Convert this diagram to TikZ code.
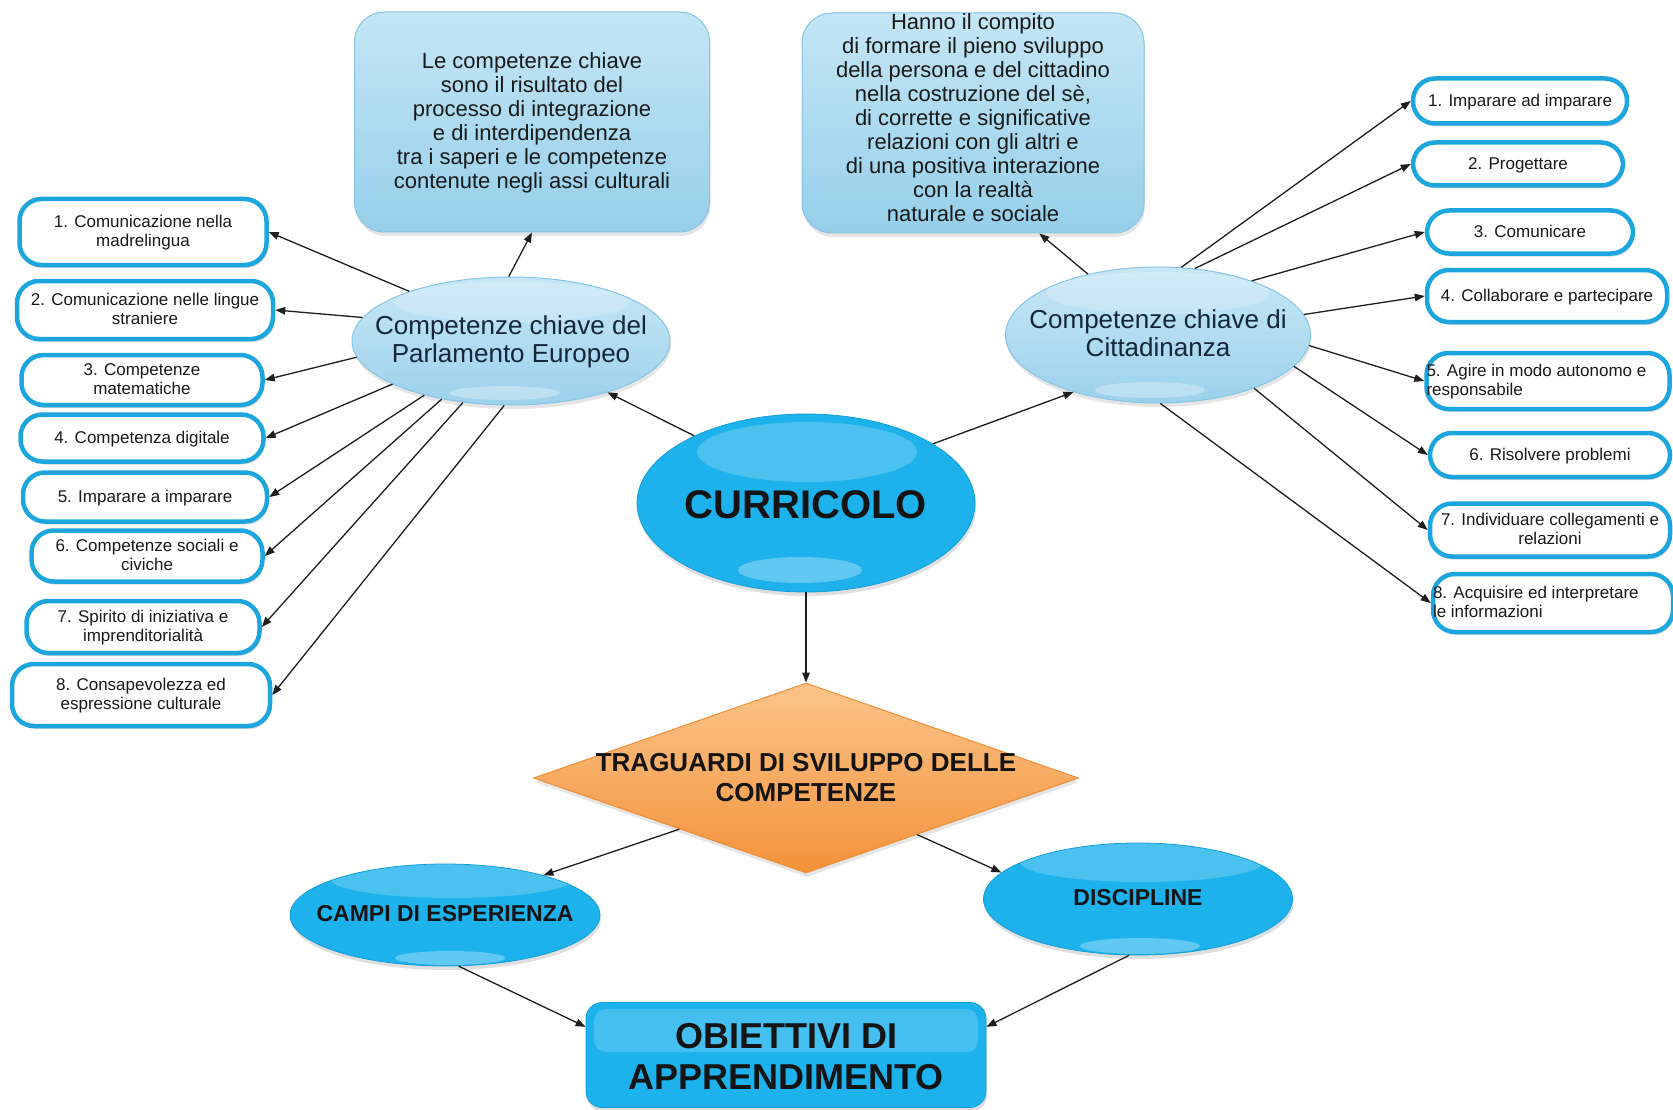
\documentclass[tikz,border=0pt]{standalone}
\usepackage{fontspec}
\setmainfont{Liberation Sans}
\usetikzlibrary{shapes.geometric,shadows,arrows.meta}

\definecolor{pillB}{HTML}{1CA6DD}
\definecolor{cyanC}{HTML}{1DB2EC}
\definecolor{cyanD}{HTML}{139FD6}
\definecolor{lbTop}{HTML}{C4E6F5}
\definecolor{lbBot}{HTML}{96CFEA}
\definecolor{keTop}{HTML}{C8E7F6}
\definecolor{keBot}{HTML}{9BD1EC}
\definecolor{lbBorder}{HTML}{86C6E4}
\definecolor{orT}{HTML}{FBC48A}
\definecolor{orB}{HTML}{F3923A}
\definecolor{orBorder}{HTML}{EE8E36}
\definecolor{arr}{HTML}{1E1E1E}
\definecolor{navy}{HTML}{15263A}

\newcommand\zb[2][0pt]{\smash{\makebox[0pt]{\raisebox{\dimexpr-.33em+#1\relax}{\begin{tabular}{@{}c@{}}#2\end{tabular}}}}}
\newcommand\zl[2]{\smash{\makebox[0pt]{\makebox[#1][l]{\raisebox{-.33em}{\begin{tabular}{@{}l@{}}#2\end{tabular}}}}}}

\tikzset{
  pill/.style={rectangle, rounded corners=22pt, draw=pillB, line width=4.5pt, fill=white,
    inner sep=0pt, font=\fontsize{17}{19.5}\selectfont, text=black!90,
    drop shadow={shadow xshift=1.5pt, shadow yshift=-3pt, opacity=.3}},
  keybox/.style={ellipse, draw=lbBorder, line width=1pt, top color=keTop, bottom color=keBot,
    inner sep=0pt, font=\fontsize{26}{28}\selectfont, text=navy,
    drop shadow={shadow xshift=1pt, shadow yshift=-4pt, opacity=.2}},
  infobox/.style={rectangle, rounded corners=30pt, draw=lbBorder, line width=1pt,
    top color=lbTop, bottom color=lbBot, inner sep=0pt, font=\fontsize{22}{24}\selectfont,
    text=black!90,
    drop shadow={shadow xshift=1pt, shadow yshift=-4pt, opacity=.2}},
  cyanell/.style={ellipse, draw=cyanD, line width=.8pt, fill=cyanC, inner sep=0pt, text=black!92,
    drop shadow={shadow xshift=1pt, shadow yshift=-4pt, opacity=.25}},
  conn/.style={-{Triangle[length=10pt,width=7.5pt]}, line width=1.3pt, draw=arr},
  % two glossy highlights inside an ellipse: top (dx,dy,rx,ry) and bottom (dx,dy,rx,ry)
  twogloss/.style n args={8}{path picture={
    \fill[white, opacity=.2] ([xshift=#1pt, yshift=#2pt]path picture bounding box.center)
      ellipse [x radius=#3pt, y radius=#4pt];
    \fill[white, opacity=.3] ([xshift=#5pt, yshift=#6pt]path picture bounding box.center)
      ellipse [x radius=#7pt, y radius=#8pt];}}
}

\begin{document}
\begin{tikzpicture}[x=1pt, y=-1pt]
\useasboundingbox (0,0) rectangle (1673,1110);
\fill[white] (0,0) rectangle (1673,1110);

% info boxes
\node[infobox, minimum width=355pt, minimum height=220pt] (tl) at (532,122)
  {\zb{Le competenze chiave\\sono il risultato del\\processo di integrazione\\e di interdipendenza\\tra i saperi e le competenze\\contenute negli assi culturali}};
\node[infobox, minimum width=342pt, minimum height=220pt] (tr) at (973,123)
  {\zb[4pt]{Hanno il compito\\di formare il pieno sviluppo\\della persona e del cittadino\\nella costruzione del sè,\\di corrette e significative\\relazioni con gli altri e\\di una positiva interazione\\con la realtà\\naturale e sociale}};

% key ellipses
\node[keybox, minimum width=318pt, minimum height=128pt,
  twogloss={0}{39}{118}{20}{-6}{-52}{55}{7}] (par) at (511,341)
  {\zb{Competenze chiave del\\Parlamento Europeo}};
\node[keybox, minimum width=305pt, minimum height=136pt,
  twogloss={0}{42}{112}{21}{-8}{-55}{55}{8}] (cit) at (1158,335)
  {\zb{Competenze chiave di\\Cittadinanza}};

% left boxes
\node[pill, minimum width=247pt, minimum height=66pt] (l1) at (143,232) {\zb{1. Comunicazione nella\\madrelingua}};
\node[pill, minimum width=256pt, minimum height=58pt] (l2) at (145,310) {\zb{2. Comunicazione nelle lingue\\straniere}};
\node[pill, minimum width=241pt, minimum height=50pt] (l3) at (142,380) {\zb{3. Competenze\\matematiche}};
\node[pill, minimum width=243pt, minimum height=47pt] (l4) at (142,438) {\zb{4. Competenza digitale}};
\node[pill, minimum width=244pt, minimum height=49pt] (l5) at (145,497) {\zb{5. Imparare a imparare}};
\node[pill, minimum width=231pt, minimum height=51pt] (l6) at (147,556) {\zb{6. Competenze sociali e\\civiche}};
\node[pill, minimum width=233pt, minimum height=52pt] (l7) at (143,627) {\zb{7. Spirito di iniziativa e\\imprenditorialità}};
\node[pill, minimum width=258pt, minimum height=62pt] (l8) at (141,695) {\zb{8. Consapevolezza ed\\espressione culturale}};

% right boxes
\node[pill, minimum width=214pt, minimum height=45pt] (r1) at (1520,101) {\zb{1. Imparare ad imparare}};
\node[pill, minimum width=210pt, minimum height=43pt] (r2) at (1518,164) {\zb{2. Progettare}};
\node[pill, minimum width=206pt, minimum height=43pt] (r3) at (1530,232) {\zb{3. Comunicare}};
\node[pill, minimum width=240pt, minimum height=52pt] (r4) at (1547,296) {\zb{4. Collaborare e partecipare}};
\node[pill, minimum width=243pt, minimum height=56pt] (r5) at (1548,381) {\zl{243pt}{5. Agire in modo autonomo e\\responsabile}};
\node[pill, minimum width=240pt, minimum height=44pt] (r6) at (1550,455) {\zb{6. Risolvere problemi}};
\node[pill, minimum width=240pt, minimum height=53pt] (r7) at (1550,530) {\zb{7. Individuare collegamenti e\\relazioni}};
\node[pill, minimum width=240pt, minimum height=58pt] (r8) at (1553,603) {\zl{240pt}{8. Acquisire ed interpretare\\le informazioni}};

% CURRICOLO
\node[cyanell, minimum width=338pt, minimum height=178pt,
  twogloss={1}{51}{110}{30}{-6}{-67}{62}{13},
  font=\bfseries\fontsize{40}{44}\selectfont] (cur) at (806,503) {\zb{CURRICOLO}};

% diamond
\node[diamond, minimum width=545pt, minimum height=190pt, draw=orBorder, line width=1pt,
  top color=orT, bottom color=orB, inner sep=0pt, text=black!92,
  drop shadow={shadow xshift=1pt, shadow yshift=-4pt, opacity=.2},
  font=\bfseries\fontsize{26}{30}\selectfont] (tra) at (806,778)
  {\zb{TRAGUARDI DI SVILUPPO DELLE\\COMPETENZE}};

% campi / discipline
\node[cyanell, minimum width=310pt, minimum height=102pt,
  twogloss={7}{36}{122}{19}{5}{-43}{55}{7},
  font=\bfseries\fontsize{23}{26}\selectfont] (cam) at (445,915) {\zb{CAMPI DI ESPERIENZA}};
\node[cyanell, minimum width=309pt, minimum height=112pt,
  twogloss={4}{37}{122}{20}{2}{-47}{60}{8},
  font=\bfseries\fontsize{23}{26}\selectfont] (dis) at (1138,899) {\zb{DISCIPLINE}};

% obiettivi
\node[rectangle, rounded corners=16pt, fill=cyanC, draw=cyanD, line width=.8pt,
  minimum width=400pt, minimum height=105pt, inner sep=0pt, text=black!92,
  drop shadow={shadow xshift=1pt, shadow yshift=-4pt, opacity=.25},
  path picture={\fill[white, opacity=.18, rounded corners=12pt]
    ([xshift=-192pt, yshift=46pt]path picture bounding box.center) rectangle
    ([xshift=192pt, yshift=3pt]path picture bounding box.center);},
  font=\bfseries\fontsize{36}{41}\selectfont] (obj) at (786,1055) {\zb{OBIETTIVI DI\\APPRENDIMENTO}};

% connectors
\draw[conn] (par.154) -- (l1.east);
\draw[conn] (par.171) -- (l2.east);
\draw[conn] (par.186) -- (l3.east);
\draw[conn] (par.200) -- (l4.east);
\draw[conn] (par.212) -- (l5.east);
\draw[conn] (par.220) -- (l6.east);
\draw[conn] (par.232) -- (l7.east);
\draw[conn] (par.264) -- (l8.east);
\draw[conn] (par.92) -- (tl.south);
\draw[conn] (cur.149) -- (par.332);
\draw[conn] (cur.25) -- (cit.214);
\draw[conn] (cit.139) -- (tr.301);
\draw[conn] (cit.71) -- (r1.west);
\draw[conn] (cit.61) -- (r2.west);
\draw[conn] (cit.30) -- (r3.west);
\draw[conn] (cit.8) -- (r4.west);
\draw[conn] (cit.356) -- (r5.west);
\draw[conn] (cit.347) -- (r6.west);
\draw[conn] (cit.331) -- (r7.west);
\draw[conn] (cit.272) -- (r8.west);
\draw[conn] (cur.south) -- (tra.north);
\draw[conn] (tra.202) -- (cam.22);
\draw[conn] (tra.333) -- (dis.169);
\draw[conn] (cam.285) -- (obj.172);
\draw[conn] (dis.261) -- (obj.8);
\end{tikzpicture}
\end{document}
